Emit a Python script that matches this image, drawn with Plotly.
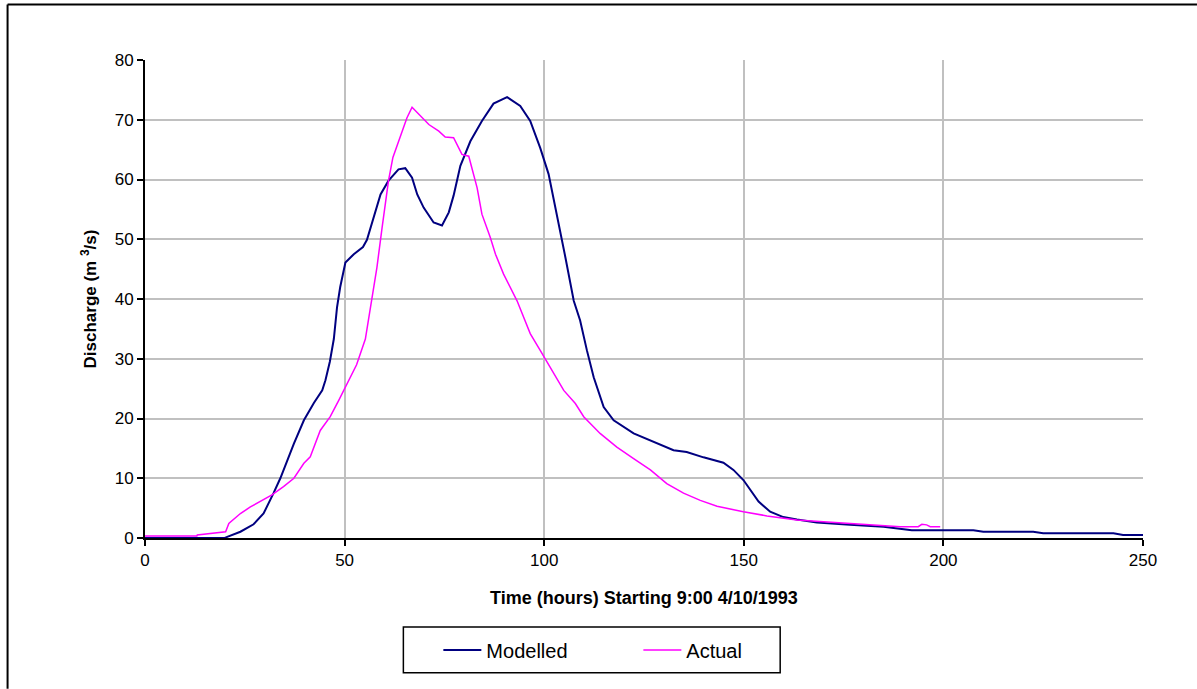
import plotly.graph_objects as go

# Modelled discharge
mod_t = [0, 10, 20, 20.6, 23.9, 27.2, 29.7, 32.2, 33.9, 37.3, 39.8, 42.3, 44.4, 45.2, 46.3, 47.3, 48.1, 48.9, 50.2,
         52.3, 54.6, 55.6, 57.3, 59.0, 61.0, 63.5, 65.2, 66.9, 68.2, 69.8, 72.3, 74.4, 76.1, 77.3, 79.0, 81.5, 84.4,
         87.3, 90.7, 94.0, 96.5, 99.0, 101.1, 103.2, 105.3, 107.4, 109.0, 110.7, 112.4, 114.9, 117.4, 122.4, 128.2,
         132.4, 135.7, 139.9, 144.9, 147.4, 149.9, 152.0, 153.7, 156.6, 159.9, 163.3, 168.3, 176.6, 185.0, 192.1,
         207.5, 210.0, 222.5, 225.0, 242.6, 245.0, 250.0]
mod_q = [0, 0, 0, 0.2, 1.05, 2.3, 4.1, 7.5, 10, 15.8, 19.7, 22.6, 24.7, 26.4, 29.5, 33.3, 38.6, 42.0, 46.1,
         47.5, 48.7, 49.9, 53.6, 57.5, 59.8, 61.7, 61.9, 60.3, 57.5, 55.3, 52.8, 52.3, 54.5, 57.3, 62.3, 66.4, 69.8,
         72.7, 73.8, 72.3, 69.8, 65.3, 60.9, 54.2, 47.0, 39.7, 36.4, 31.4, 26.9, 21.9, 19.7, 17.5, 15.8,
         14.7, 14.4, 13.5, 12.6, 11.4, 9.7, 7.7, 6.1, 4.4, 3.5, 3.1, 2.6, 2.2, 1.9, 1.3,
         1.3, 1.05, 1.05, 0.8, 0.8, 0.5, 0.5]

# Actual discharge
act_t = [0, 13.0, 13.1, 17.2, 20.2, 21.0, 23.9, 26.4, 29.7, 31.8, 34.7, 37.3, 39.8, 41.4, 43.9, 46.4, 48.5, 50.2,
         51.0, 53.0, 55.2, 56.5, 58.1, 59.4, 61.0, 62.1, 63.5, 65.6, 66.9, 68.6, 71.1, 73.6, 75.2, 77.3, 79.4, 81.1,
         83.2, 84.4, 86.5, 87.8, 89.8, 93.2, 96.5, 99.0, 101.5, 104.9, 107.8, 109.9, 114.0, 118.2, 122.4, 126.6,
         130.7, 134.9, 139.1, 143.3, 149.9, 155.8, 163.3, 172.5, 182.5, 189.2, 193.7, 194.6, 195.8, 196.7, 199.2]
act_q = [0.33, 0.33, 0.5, 0.8, 1.05, 2.45, 4.1, 5.2, 6.5, 7.2, 8.6, 10.0, 12.5, 13.6, 18.0, 20.3, 23.0, 25.3,
         26.4, 29.0, 33.3, 38.6, 45.3, 52.0, 59.8, 63.7, 66.4, 70.3, 72.1, 70.9, 69.2, 68.1, 67.1, 67.0, 64.2, 63.9,
         58.6, 54.2, 50.3, 47.5, 44.2, 39.7, 34.2, 31.4, 28.6, 24.7, 22.5, 20.3, 17.5, 15.2, 13.3, 11.4,
         9.1, 7.5, 6.3, 5.3, 4.4, 3.7, 3.0, 2.6, 2.2, 1.9, 1.9, 2.3, 2.2, 1.9, 1.9]

x_ticks = [0, 50, 100, 150, 200, 250]
y_ticks = [0, 10, 20, 30, 40, 50, 60, 70, 80]

FONT = "Liberation Sans, Arial, sans-serif"

fig = go.Figure()
fig.add_trace(go.Scatter(x=mod_t, y=mod_q, mode="lines", name="Modelled",
                         line=dict(color="#000080", width=2)))
fig.add_trace(go.Scatter(x=act_t, y=act_q, mode="lines", name="Actual",
                         line=dict(color="#ff00ff", width=1.5)))

W, H = 1197, 689
L, R, T, B = 144.5, 1143, 59.5, 538


def px(x):
    return (x - L) / (R - L)


def py(y):
    return (B - y) / (B - T)


fig.update_layout(
    width=W, height=H,
    margin=dict(l=L, r=W - R, t=T, b=H - B, autoexpand=False),
    paper_bgcolor="white", plot_bgcolor="white",
    font=dict(family=FONT, size=17, color="black"),
    showlegend=True,
    legend=dict(orientation="h", x=px(438), y=py(650), xanchor="left", yanchor="middle",
                font=dict(size=20, family=FONT), entrywidth=147, entrywidthmode="pixels",
                bgcolor="rgba(0,0,0,0)", borderwidth=0, itemwidth=38),
    xaxis=dict(range=[0, 250], tickvals=x_ticks, ticktext=[str(v) for v in x_ticks],
               showgrid=True, gridcolor="#c0c0c0", gridwidth=1.5,
               showline=True, linecolor="black", linewidth=2, ticks="outside", ticklen=6,
               tickcolor="black", tickwidth=1.5, zeroline=False,
               tickfont=dict(size=17),
               title=dict(text="<b>Time (hours) Starting 9:00 4/10/1993</b>", font=dict(size=18), standoff=22)),
    yaxis=dict(range=[0, 80], tickvals=y_ticks, ticktext=[str(v) for v in y_ticks],
               showgrid=True, gridcolor="#c0c0c0", gridwidth=1.5,
               showline=True, linecolor="black", linewidth=2, ticks="outside", ticklen=6,
               tickcolor="black", tickwidth=1.5, zeroline=False,
               tickfont=dict(size=17),
               title=dict(text="<b>Discharge (m <sup>3</sup>/s)</b>", font=dict(size=17), standoff=14)),
    shapes=[
        dict(type="rect", xref="paper", yref="paper", x0=px(403), x1=px(780), y0=py(673), y1=py(627),
             line=dict(color="black", width=1.5), fillcolor="rgba(0,0,0,0)", layer="above"),
        # outer chart frame: top and left edges (the others lie beyond the picture)
        dict(type="line", xref="paper", yref="paper", x0=px(7), x1=px(1197), y0=py(4), y1=py(4),
             line=dict(color="black", width=2), layer="above"),
        dict(type="line", xref="paper", yref="paper", x0=px(7), x1=px(7), y0=py(4), y1=py(689),
             line=dict(color="black", width=2), layer="above"),
    ],
)

fig.write_html("out.html")
